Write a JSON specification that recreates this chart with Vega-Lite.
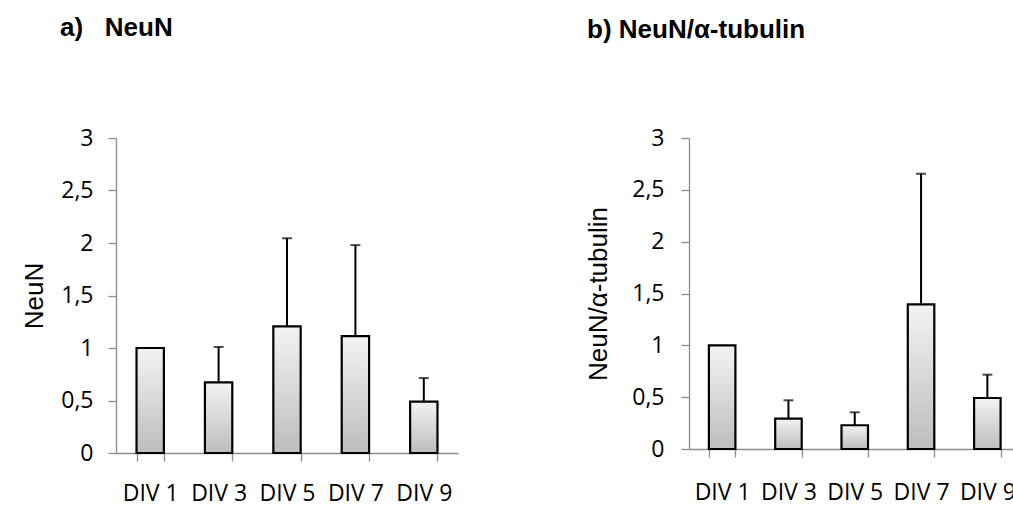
{
  "$schema": "https://vega.github.io/schema/vega-lite/v6.json",
  "padding": {"left": 21, "top": 15, "right": 0, "bottom": 0},
  "background": "white",
  "config": {
    "view": {"stroke": null},
    "axis": {"grid": false, "domainColor": "#8c8c8c", "tickColor": "#8c8c8c", "domainWidth": 1.3, "tickWidth": 1.3, "tickSize": 8, "labelFont": "Open Sans", "labelFontSize": 23, "labelColor": "black", "titleFont": "Liberation Sans", "titleFontWeight": "normal", "titleFontSize": 26, "titleColor": "black"},
    "title": {"font": "Liberation Sans", "fontWeight": "bold", "fontSize": 26, "color": "black", "anchor": "start", "frame": "group"}
  },
  "datasets": {
    "neun": [
      {"div": "DIV 1", "value": 1.0, "upper": null},
      {"div": "DIV 3", "value": 0.673, "upper": 1.01},
      {"div": "DIV 5", "value": 1.206, "upper": 2.045},
      {"div": "DIV 7", "value": 1.114, "upper": 1.98},
      {"div": "DIV 9", "value": 0.49, "upper": 0.714}
    ],
    "ratio": [
      {"div": "DIV 1", "value": 1.0, "upper": null},
      {"div": "DIV 3", "value": 0.293, "upper": 0.47},
      {"div": "DIV 5", "value": 0.229, "upper": 0.354},
      {"div": "DIV 7", "value": 1.395, "upper": 2.655},
      {"div": "DIV 9", "value": 0.492, "upper": 0.717}
    ]
  },
  "spacing": 127,
  "hconcat": [
    {
      "width": 342,
      "height": 315,
      "title": {"text": "a)\u00a0\u00a0\u00a0NeuN", "dx": -56, "offset": 86},
      "data": {"name": "neun"},
      "encoding": {
        "x": {"field": "div", "type": "nominal", "sort": null,
              "scale": {"paddingInner": 0.6, "paddingOuter": 0.3},
              "axis": {"title": null, "labelAngle": 0, "tickBand": "extent", "labelPadding": 21}},
        "y": {"field": "value", "type": "quantitative",
              "scale": {"domain": [0, 3], "nice": false},
              "axis": {"title": "NeuN", "values": [0, 0.5, 1, 1.5, 2, 2.5, 3], "format": "~g", "labelExpr": "replace(datum.label, '.', ',')", "labelPadding": 15, "titleX": -82, "titleBaseline": "middle"}}
      },
      "layer": [
        {"mark": {"type": "bar", "stroke": "black", "strokeWidth": 2.2,
                  "color": {"gradient": "linear", "x1": 0, "y1": 0, "x2": 0, "y2": 1, "stops": [{"offset": 0, "color": "#f3f3f3"}, {"offset": 1, "color": "#bdbdbd"}]}}},
        {"transform": [{"filter": "isValid(datum.upper)"}],
         "mark": {"type": "rule", "color": "black", "strokeWidth": 2},
         "encoding": {"y2": {"field": "upper"}}},
        {"transform": [{"filter": "isValid(datum.upper)"}],
         "mark": {"type": "tick", "color": "black", "thickness": 2, "size": 10},
         "encoding": {"y": {"field": "upper", "type": "quantitative"}}}
      ]
    },
    {
      "width": 331.5,
      "height": 311,
      "title": {"text": "b) NeuN/\u03b1-tubulin", "dx": -102, "offset": 84},
      "data": {"name": "ratio"},
      "encoding": {
        "x": {"field": "div", "type": "nominal", "sort": null,
              "scale": {"paddingInner": 0.6, "paddingOuter": 0.3},
              "axis": {"title": null, "labelAngle": 0, "tickBand": "extent", "labelPadding": 24}},
        "y": {"field": "value", "type": "quantitative",
              "scale": {"domain": [0, 3], "nice": false},
              "axis": {"title": "NeuN/\u03b1-tubulin", "values": [0, 0.5, 1, 1.5, 2, 2.5, 3], "format": "~g", "labelExpr": "replace(datum.label, '.', ',')", "labelPadding": 17, "titleX": -91, "titleBaseline": "middle"}}
      },
      "layer": [
        {"mark": {"type": "bar", "stroke": "black", "strokeWidth": 2.2,
                  "color": {"gradient": "linear", "x1": 0, "y1": 0, "x2": 0, "y2": 1, "stops": [{"offset": 0, "color": "#f3f3f3"}, {"offset": 1, "color": "#bdbdbd"}]}}},
        {"transform": [{"filter": "isValid(datum.upper)"}],
         "mark": {"type": "rule", "color": "black", "strokeWidth": 2},
         "encoding": {"y2": {"field": "upper"}}},
        {"transform": [{"filter": "isValid(datum.upper)"}],
         "mark": {"type": "tick", "color": "black", "thickness": 2, "size": 10},
         "encoding": {"y": {"field": "upper", "type": "quantitative"}}}
      ]
    }
  ]
}
